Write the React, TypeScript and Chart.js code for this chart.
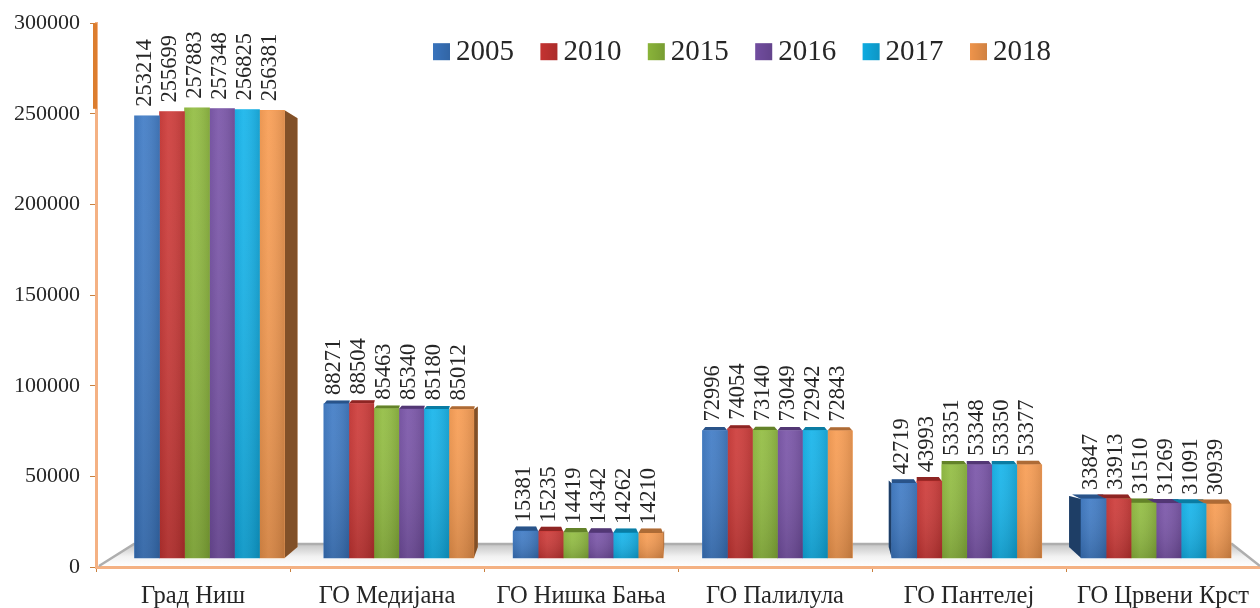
import React, { useEffect, useRef } from "react";
import { Chart, registerables } from "chart.js";

Chart.register(...registerables);

const categories = ["Град Ниш", "ГО Медијана", "ГО Нишка Бања", "ГО Палилула", "ГО Пантелеј", "ГО Црвени Крст"];
const years = ["2005", "2010", "2015", "2016", "2017", "2018"];
const s2005 = [253214, 88271, 15381, 72996, 42719, 33847];
const s2010 = [255699, 88504, 15235, 74054, 43993, 33913];
const s2015 = [257883, 85463, 14419, 73140, 53351, 31510];
const s2016 = [257348, 85340, 14342, 73049, 53348, 31269];
const s2017 = [256825, 85180, 14262, 72942, 53350, 31091];
const s2018 = [256381, 85012, 14210, 72843, 53377, 30939];
const seriesValues = [s2005, s2010, s2015, s2016, s2017, s2018];
const seriesColors = ["#3b78c4", "#cc3533", "#8fbb3c", "#7650a6", "#0fb2ea", "#f89a4e"];
const groupSideDepth = [13, 4, 1, 0, -3, -12];
const SERIF = '"Liberation Serif", serif';

const threeD = {
  id: "threeD",
  beforeDatasetsDraw(chart: any) {
    const { ctx, chartArea: a, scales } = chart;
    const base = scales.yb.getPixelForValue(0);
    ctx.save();
    // floor
    const grad = ctx.createLinearGradient(0, base - 14, 0, a.bottom);
    grad.addColorStop(0, "#c4c4c4");
    grad.addColorStop(0.55, "#f2f2f2");
    grad.addColorStop(1, "#ffffff");
    ctx.fillStyle = grad;
    ctx.beginPath();
    ctx.moveTo(a.left + 3, a.bottom - 1);
    ctx.lineTo(a.left + 38, base - 14);
    ctx.lineTo(a.right - 28, base - 14);
    ctx.lineTo(a.right, a.bottom - 1);
    ctx.closePath();
    ctx.fill();
    ctx.strokeStyle = "#aeaeae";
    ctx.lineWidth = 2.5;
    ctx.beginPath();
    ctx.moveTo(a.left + 3, a.bottom - 1);
    ctx.lineTo(a.left + 38, base - 14);
    ctx.lineTo(a.right - 28, base - 14);
    ctx.lineTo(a.right, a.bottom - 1);
    ctx.stroke();
    // side faces & top faces
    chart.data.datasets.forEach((ds: any, di: number) => {
      const meta = chart.getDatasetMeta(di);
      meta.data.forEach((bar: any, i: number) => {
        const l = bar.x - bar.width / 2;
        const r = bar.x + bar.width / 2;
        const d = groupSideDepth[i];
        const h = bar.base - bar.y;
        if (h < 400) {
          const t = 5 * (1 - h / 450);
          ctx.fillStyle = ds.backgroundColor;
          ctx.beginPath();
          ctx.moveTo(l, bar.y);
          ctx.lineTo(l + 3 + Math.min(d, 0), bar.y - t);
          ctx.lineTo(r - 3 + Math.max(d, 0), bar.y - t);
          ctx.lineTo(r, bar.y);
          ctx.closePath();
          ctx.fill();
          ctx.fillStyle = "rgba(0,0,0,0.3)";
          ctx.fill();
        }
        const side = (d > 0 && di === 5) || (d < 0 && di === 0);
        if (side) {
          const e = d > 0 ? r : l;
          ctx.fillStyle = ds.backgroundColor;
          ctx.beginPath();
          ctx.moveTo(e, bar.y);
          ctx.lineTo(e + d, h > 400 ? bar.y + 8 : bar.y - 3);
          ctx.lineTo(e + d, bar.base - 11);
          ctx.lineTo(e, bar.base);
          ctx.closePath();
          ctx.fill();
          ctx.fillStyle = "rgba(0,0,0,0.48)";
          ctx.fill();
        }
      });
    });
    ctx.restore();
  },
  afterDatasetsDraw(chart: any) {
    const { ctx, scales, chartArea: a } = chart;
    ctx.save();
    chart.data.datasets.forEach((ds: any, di: number) => {
      const meta = chart.getDatasetMeta(di);
      meta.data.forEach((bar: any) => {
        const l = bar.x - bar.width / 2;
        const w = bar.width;
        const g = ctx.createLinearGradient(l, 0, l + w, 0);
        g.addColorStop(0, "rgba(0,0,0,0.06)");
        g.addColorStop(0.35, "rgba(255,255,255,0.06)");
        g.addColorStop(1, "rgba(0,0,0,0.12)");
        ctx.fillStyle = g;
        ctx.fillRect(l, bar.y, w, bar.base - bar.y);
        const v = ctx.createLinearGradient(0, bar.y, 0, bar.base);
        v.addColorStop(0, "rgba(255,255,255,0.05)");
        v.addColorStop(1, "rgba(0,0,0,0.14)");
        ctx.fillStyle = v;
        ctx.fillRect(l, bar.y, w, bar.base - bar.y);
      });
    });
    // value labels
    ctx.fillStyle = "#262626";
    ctx.font = `22.5px ${SERIF}`;
    ctx.textAlign = "left";
    ctx.textBaseline = "middle";
    chart.data.datasets.forEach((ds: any, di: number) => {
      const meta = chart.getDatasetMeta(di);
      meta.data.forEach((bar: any, i: number) => {
        ctx.save();
        ctx.translate(bar.x - 2, bar.y - 9);
        ctx.rotate(-Math.PI / 2);
        ctx.fillText(String(seriesValues[di][i]), 0, 0);
        ctx.restore();
      });
    });
    // legend
    const legendY = scales.y.getPixelForValue(300000) + 28;
    let x = a.left + 337;
    ctx.font = `29px ${SERIF}`;
    ctx.textBaseline = "middle";
    chart.data.datasets.forEach((ds: any) => {
      ctx.fillStyle = ds.backgroundColor;
      ctx.fillRect(x, legendY - 8, 17, 17);
      const g = ctx.createLinearGradient(x, 0, x + 17, 0);
      g.addColorStop(0, "rgba(0,0,0,0.04)");
      g.addColorStop(1, "rgba(0,0,0,0.16)");
      ctx.fillStyle = g;
      ctx.fillRect(x, legendY - 8, 17, 17);
      ctx.fillStyle = "#262626";
      ctx.fillText(ds.label, x + 23, legendY + 1);
      x += 107.4;
    });
    ctx.restore();
  },
  afterDraw(chart: any) {
    const { ctx, chartArea: a, scales } = chart;
    ctx.save();
    ctx.strokeStyle = "#dc7d2e";
    ctx.lineWidth = 4;
    ctx.beginPath();
    ctx.moveTo(a.left - 1, scales.y.getPixelForValue(300000));
    ctx.lineTo(a.left - 1, scales.y.getPixelForValue(250000) - 5);
    ctx.stroke();
    ctx.restore();
  },
};

export default function App() {
  const ref = useRef<HTMLCanvasElement | null>(null);
  useEffect(() => {
    document.body.style.margin = "0";
    const chart = new Chart(ref.current as HTMLCanvasElement, {
      type: "bar",
      data: {
        labels: categories,
        datasets: years.map((y, di) => ({
          label: y,
          data: seriesValues[di].map((v, i) => ({ x: i, y: v })),
          backgroundColor: seriesColors[di],
          borderWidth: 0,
          barThickness: 25,
          xAxisID: "xb",
          yAxisID: "yb",
        })),
      } as any,
      options: {
        animation: false,
        responsive: false,
        layout: { padding: { top: 22, right: 0, left: 0, bottom: 0 } },
        plugins: { legend: { display: false }, tooltip: { enabled: false }, title: { display: false } },
        scales: {
          x: {
            type: "category",
            labels: categories,
            offset: true,
            afterFit: (s: any) => { s.height = 41; },
            grid: { display: true, drawOnChartArea: false, offset: true, tickLength: 5, color: "#c8803f" },
            border: { color: "#f4b183", width: 3 },
            ticks: { font: { family: SERIF, size: 24.5 }, color: "#262626", padding: 10, maxRotation: 0, autoSkip: false },
          },
          y: {
            type: "linear",
            position: "left",
            min: 0,
            max: 300000,
            afterFit: (s: any) => { s.width = 96; },
            grid: { display: true, drawOnChartArea: false, tickLength: 6, color: "#c8803f" },
            border: { color: "#f4b183", width: 3 },
            ticks: { stepSize: 50000, font: { family: SERIF, size: 22 }, color: "#262626", padding: 10, callback: (v: any) => String(v) },
          },
          xb: { type: "linear", display: false, offset: false, min: -0.5996, max: 5.549, grid: { display: false } },
          yb: { type: "linear", display: false, min: -5143, max: 306286, grid: { display: false } },
        },
      } as any,
      plugins: [threeD as any],
    });
    return () => chart.destroy();
  }, []);
  return (
    <div style={{ width: 1260, height: 608, background: "#ffffff" }}>
      <canvas ref={ref} width={1260} height={608} style={{ display: "block", filter: "blur(0.5px)" }} />
    </div>
  );
}
